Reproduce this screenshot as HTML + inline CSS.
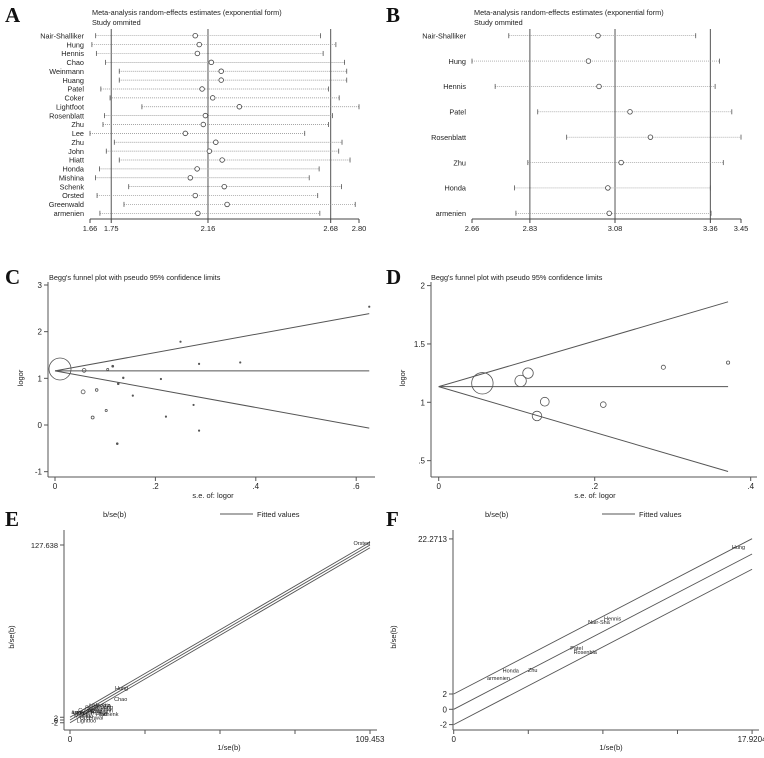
<!DOCTYPE html>
<html><head><meta charset="utf-8"><style>
body{margin:0;background:#fff}
svg{display:block;font-family:"Liberation Sans",sans-serif}
</style></head><body>
<svg id="fig" width="764" height="758" viewBox="0 0 764 758" xmlns="http://www.w3.org/2000/svg"></svg>
<script>
// ---- Panel A data (leave-one-out forest) ----
const studiesA=["Nair-Shalliker","Hung","Hennis","Chao","Weinmann","Huang","Patel","Coker","Lightfoot","Rosenblatt","Zhu","Lee","Zhu","John","Hiatt","Honda","Mishina","Schenk","Orsted","Greenwald","armenien"];
const estA=[2.106,2.123,2.115,2.174,2.216,2.216,2.135,2.180,2.293,2.149,2.140,2.064,2.193,2.166,2.220,2.114,2.085,2.229,2.106,2.241,2.117];
const loA=[1.684,1.668,1.687,1.726,1.784,1.784,1.706,1.745,1.880,1.721,1.715,1.660,1.763,1.729,1.784,1.700,1.683,1.824,1.690,1.804,1.702];
const hiA=[2.637,2.702,2.648,2.739,2.748,2.748,2.671,2.716,2.800,2.688,2.671,2.570,2.728,2.714,2.762,2.631,2.589,2.726,2.625,2.784,2.634];
const ticksA=[1.66,1.75,2.16,2.68,2.80];
const refA=[1.75,2.16,2.68];
// ---- Panel B data ----
const studiesB=["Nair-Shalliker","Hung","Hennis","Patel","Rosenblatt","Zhu","Honda","armenien"];
const estB=[3.030,3.002,3.033,3.124,3.184,3.098,3.059,3.063];
const loB=[2.768,2.660,2.728,2.853,2.938,2.824,2.785,2.789];
const hiB=[3.317,3.387,3.374,3.423,3.450,3.398,3.360,3.362];
const ticksB=[2.66,2.83,3.08,3.36,3.45];
const refB=[2.83,3.08,3.36];
// ---- Panel C data (funnel) ----
const seC=[0.010,0.058,0.056,0.075,0.083,0.102,0.105,0.115,0.136,0.126,0.155,0.124,0.211,0.221,0.250,0.276,0.287,0.287,0.369,0.626];
const lorC=[1.20,1.17,0.71,0.16,0.75,0.31,1.19,1.26,1.01,0.885,0.63,-0.40,0.985,0.18,1.785,0.43,1.31,-0.12,1.34,2.535];
const pooledC=1.16;
const yTicksC=[-1,0,1,2,3];
const xTicksC=[0,0.2,0.4,0.6];
const xTickLabC=["0",".2",".4",".6"];
// ---- Panel D data ----
const seD=[0.056,0.105,0.1145,0.136,0.126,0.211,0.288,0.371];
const lorD=[1.163,1.183,1.25,1.005,0.883,0.98,1.30,1.34];
const pooledD=1.134;
const yTicksD=[0.5,1,1.5,2];
const yTickLabD=[".5","1","1.5","2"];
const xTicksD=[0,0.2,0.4];
const xTickLabD=["0",".2",".4"];
// ---- Panel E data (Galbraith) ----
const namesE=["Orsted","Hung","Chao","Nair-Sha","Hennis","Weinmann","Huang","Patel","Coker","Lightfoo","Rosenbla","Zhu","Lee","John","Hiatt","Honda","Mishina","Schenk","Greenwal","armenien","Zhu"];
const invSeE=[109.453,16.4,16.1,7.0,8.5,6.2,9.8,5.5,3.0,2.4,6.5,4.0,0.8,2.0,9.5,7.5,1.5,11.0,3.5,0.5,8.0];
const zE=[127.638,21.9,13.9,9.0,9.5,5.5,8.0,7.5,6.0,-2.0,6.5,2.5,4.5,3.5,3.0,4.0,2.0,3.0,0.5,4.2,5.0];
const slopeE=1.166;
const yTicksE=[-2,0,2,127.638];
const xTicksE=[0,27.363,54.727,82.09,109.453];
// ---- Panel F data ----
const namesF=["Hung","Nair-Sha","Hennis","Patel","Rosenbla","Honda","Zhu","armenien"];
const invSeF=[17.5,8.07,9.03,7.0,7.2,2.94,4.46,2.0];
const zF=[20.95,11.15,11.6,7.75,7.2,4.8,4.9,3.8];
const slopeF=1.133;
const yTicksF=[-2,0,2,22.2713];
const xTicksF=[0,4.4801,8.9602,13.4403,17.9204];

const NS="http://www.w3.org/2000/svg";
const svg=document.getElementById('fig');
function el(tag,attrs,parent,text){const e=document.createElementNS(NS,tag);for(const k in attrs)e.setAttribute(k,attrs[k]);if(text!==undefined)e.textContent=text;(parent||svg).appendChild(e);return e;}
function grp(name){const g=el('g',{});


return g;}
function txt(g,x,y,s,size,anchor,name,extra){const t=el('text',Object.assign({x:x,y:y,'font-size':size,'text-anchor':anchor||'start',fill:'#222'},extra||{}),g,s);


return t;}
function letter(x,y,s){const t=el('text',{x:x,y:y,'font-size':21,'font-weight':'bold','font-family':'Liberation Serif,serif',fill:'#111'},svg,s);

}

// ---------- Forest panels ----------
function forest(ox,studies,est,lo,hi,ticks,refs,name){
  const g=grp(name);
  const x0=90+ox,x1=359+ox,vmin=ticks[0],vmax=ticks[ticks.length-1];
  const X=v=>x0+(v-vmin)/(vmax-vmin)*(x1-x0);
  const yTop=35.7,yBot=213.3,n=studies.length;
  const Y=i=>yTop+(yBot-yTop)*i/(n-1);
  txt(g,ox+92,15,"Meta-analysis random-effects estimates (exponential form)",7.3,'start','plot-title');
  txt(g,ox+92,25,"Study ommited",7.3,'start','plot-subtitle');
  refs.forEach(v=>{const l=el('line',{x1:X(v),x2:X(v),y1:29,y2:219,stroke:'#555','stroke-width':1},g);
    
    });
  const ax=el('line',{x1:x0,x2:x1,y1:219,y2:219,stroke:'#444','stroke-width':1},g);
  
  
  ticks.forEach(v=>{el('line',{x1:X(v),x2:X(v),y1:219,y2:223,stroke:'#444'},g);
    txt(g,X(v),231,v.toFixed(2),7.5,'middle','x-tick-label');});
  studies.forEach((s,i)=>{
    const y=Y(i);
    txt(g,ox+84,y+2.7,s,7.3,'end','study-label');
    const ci=el('line',{x1:X(lo[i]),x2:X(hi[i]),y1:y,y2:y,stroke:'#888','stroke-width':0.7,'stroke-dasharray':'1,1'},g);
    
    
    el('line',{x1:X(lo[i]),x2:X(lo[i]),y1:y-2.5,y2:y+2.5,stroke:'#555','stroke-width':0.8},g);
    el('line',{x1:X(hi[i]),x2:X(hi[i]),y1:y-2.5,y2:y+2.5,stroke:'#555','stroke-width':0.8},g);
    const c=el('circle',{cx:X(est[i]),cy:y,r:2.3,fill:'#fff',stroke:'#444','stroke-width':0.8},g);
    
    
  });
}
letter(5,22,"A");letter(386,22,"B");
forest(0,studiesA,estA,loA,hiA,ticksA,refA,'forest-plot-a');
forest(382,studiesB,estB,loB,hiB,ticksB,refB,'forest-plot-b');

// ---------- Funnel panels ----------
function funnel(ox,cfg){
  const g=grp(cfg.name);
  const X=v=>cfg.xa+(v)*cfg.xs, Y=v=>cfg.ya-(v-cfg.yv)*cfg.ys;
  txt(g,ox+49,280,"Begg's funnel plot with pseudo 95% confidence limits",7.3,'start','plot-title');
  el('line',{x1:cfg.axX,x2:cfg.axX,y1:282,y2:477,stroke:'#555'},g);
  el('line',{x1:cfg.axX,x2:ox+375,y1:477,y2:477,stroke:'#555'},g);
  cfg.yt.forEach((v,i)=>{el('line',{x1:cfg.axX-4,x2:cfg.axX,y1:Y(v),y2:Y(v),stroke:'#555'},g);
    txt(g,cfg.axX-6,Y(v)+3,cfg.ytl[i],8,'end','y-tick-label');});
  cfg.xt.forEach((v,i)=>{el('line',{x1:X(v),x2:X(v),y1:477,y2:481,stroke:'#555'},g);
    txt(g,X(v),489,cfg.xtl[i],8,'middle','x-tick-label');});
  txt(g,ox+cfg.xlabX,498,"s.e. of: logor",7.5,'middle','x-axis-title');
  txt(g,ox+23,cfg.ylabY,"logor",7.5,'middle','y-axis-title',{transform:`rotate(-90 ${ox+23} ${cfg.ylabY})`});
  const se=cfg.se, lor=cfg.lor, p=cfg.pooled, m=Math.max(...se);
  el('line',{x1:X(0),y1:Y(p),x2:X(m),y2:Y(p),stroke:'#555','stroke-width':1},g);
  el('line',{x1:X(0),y1:Y(p),x2:X(m),y2:Y(p+1.96*m),stroke:'#555','stroke-width':1},g);
  el('line',{x1:X(0),y1:Y(p),x2:X(m),y2:Y(p-1.96*m),stroke:'#555','stroke-width':1},g);
  se.forEach((s,i)=>{const r=Math.max(0.7,cfg.k/s);
    const c=el('circle',{cx:X(s),cy:Y(lor[i]),r:r,fill:r<1?'#555':'none',stroke:'#555','stroke-width':0.8},g);
    
    });
}
letter(5,284,"C");letter(386,284,"D");
funnel(0,{name:'funnel-plot-c',axX:48,xa:55,xs:502,ya:425,yv:0,ys:46.67,yt:yTicksC,ytl:yTicksC.map(String),xt:xTicksC,xtl:xTickLabC,se:seC,lor:lorC,pooled:pooledC,k:0.11,xlabX:213,ylabY:378});
funnel(382,{name:'funnel-plot-d',axX:431,xa:438.7,xs:780,ya:402.3,yv:1,ys:116.7,yt:yTicksD,ytl:yTickLabD,xt:xTicksD,xtl:xTickLabD,se:seD,lor:lorD,pooled:pooledD,k:0.6,xlabX:213,ylabY:378});

// ---------- Galbraith panels ----------
function galb(ox,cfg){
  const g=grp(cfg.name);
  const X=v=>cfg.xa+v*cfg.xs, Y=v=>cfg.ya-v*cfg.ys;
  txt(g,ox+103,517,"b/se(b)",7.5,'start','legend-series-label');
  el('line',{x1:ox+220,x2:ox+253,y1:514,y2:514,stroke:'#555'},g);
  txt(g,ox+257,517,"Fitted values",7.5,'start','legend-fitted-label');
  el('line',{x1:cfg.axX,x2:cfg.axX,y1:530,y2:730,stroke:'#555'},g);
  el('line',{x1:cfg.axX,x2:ox+377,y1:730,y2:730,stroke:'#555'},g);
  cfg.yt.forEach((v,i)=>{el('line',{x1:cfg.axX-4,x2:cfg.axX,y1:Y(v),y2:Y(v),stroke:'#555'},g);
    txt(g,cfg.axX-6,Y(v)+3,cfg.ytl[i],cfg.ytlSize,'end','y-tick-label');});
  cfg.xt.forEach((v,i)=>{el('line',{x1:X(v),x2:X(v),y1:730,y2:734,stroke:'#555'},g);
    if(i==0||i==cfg.xt.length-1)txt(g,X(v),742,cfg.xtl[i],8,'middle','x-tick-label');});
  txt(g,ox+229,750,"1/se(b)",7.5,'middle','x-axis-title');
  txt(g,ox+14,637,"b/se(b)",7.5,'middle','y-axis-title',{transform:`rotate(-90 ${ox+14} 637)`});
  const m=cfg.xt[cfg.xt.length-1];
  [2,0,-2].forEach(o=>{const l=el('line',{x1:X(0),y1:Y(o),x2:X(m),y2:Y(o+cfg.slope*m),stroke:'#555','stroke-width':0.9},g);
    
    });
  cfg.names.forEach((s,i)=>{const t=txt(g,X(cfg.xv[i]),Y(cfg.yv[i]),s,5.5,i==0?'end':'start','study-marker');
    });
}
letter(5,526,"E");letter(386,526,"F");
galb(0,{name:'galbraith-plot-e',axX:64,xa:70,xs:300/109.453,ya:720,ys:1.371,yt:yTicksE,ytl:["-2","0","2","127.638"],ytlSize:7.5,xt:xTicksE,xtl:["0","","","","109.453"],slope:slopeE,names:namesE,xv:invSeE,yv:zE});
galb(382,{name:'galbraith-plot-f',axX:453,xa:453.7,xs:16.65,ya:709.3,ys:7.65,yt:yTicksF,ytl:["-2","0","2","22.2713"],ytlSize:8,xt:xTicksF,xtl:["0","","","","17.9204"],slope:slopeF,names:namesF,xv:invSeF,yv:zF});
</script>
</body></html>
